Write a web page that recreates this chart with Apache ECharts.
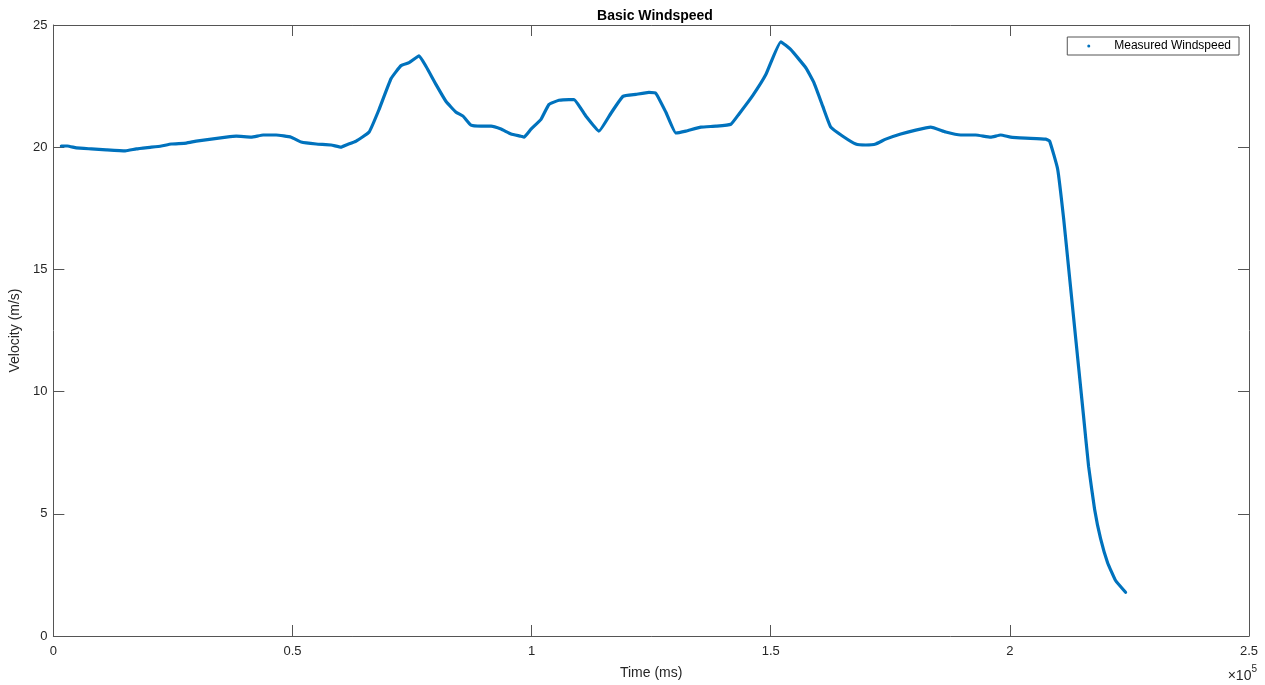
<!DOCTYPE html>
<html>
<head>
<meta charset="utf-8">
<script src="https://cdn.jsdelivr.net/npm/echarts@6/dist/echarts.min.js"></script>
<style>
  html, body { margin: 0; padding: 0; background: #fff; }
  #chart { width: 1265px; height: 685px; }
</style>
</head>
<body>
<div id="chart"></div>
<script>
// Time samples (ms) and measured windspeed (m/s)
const timeMs = [
  1672, 2925, 4806, 7940, 11074, 15044, 17342, 20476, 22566, 24655,
  27789, 29878, 33013, 36147, 38236, 41370, 43877, 46594, 49728, 51817,
  54951, 58085, 60175, 61219, 63309, 66025, 68114, 70621, 72711, 74383,
  76472, 77935, 80024, 82113, 84203, 85665, 87337, 89426, 91516, 93605,
  95695, 97784, 98411, 99873, 101963, 103634, 105724, 107813, 108858, 111365,
  114081, 116589, 119096, 121812, 124528, 125991, 128080, 130170, 132259, 135393,
  138527, 141661, 143333, 146258, 148974, 152108, 154198, 157332, 159003, 160884,
  162555, 165063, 167779, 169868, 171958, 174047, 177181, 180315, 183449, 186583,
  189718, 192852, 195986, 198075, 200165, 203299, 207477, 208313, 209985, 211238,
  212283, 213328, 214372, 215417, 216462, 217715, 218969, 220432, 222103, 224193
];
const windspeed = [
  20.05, 20.05, 19.97, 19.93, 19.89, 19.85, 19.93, 20.00, 20.05, 20.13,
  20.17, 20.25, 20.33, 20.41, 20.45, 20.41, 20.50, 20.50, 20.41, 20.21,
  20.13, 20.09, 20.00, 20.09, 20.25, 20.62, 21.55, 22.81, 23.34, 23.46,
  23.74, 23.30, 22.56, 21.87, 21.43, 21.27, 20.90, 20.86, 20.86, 20.74,
  20.54, 20.45, 20.41, 20.74, 21.14, 21.75, 21.92, 21.95, 21.95, 21.27,
  20.66, 21.39, 22.08, 22.16, 22.24, 22.20, 21.43, 20.58, 20.66, 20.82,
  20.86, 20.94, 21.35, 22.12, 22.97, 24.31, 23.99, 23.25, 22.65, 21.67,
  20.82, 20.45, 20.13, 20.09, 20.13, 20.33, 20.54, 20.70, 20.82, 20.62,
  20.50, 20.50, 20.41, 20.50, 20.41, 20.37, 20.33, 20.25, 19.11, 17.09,
  15.06, 13.03, 11.00, 8.97, 6.94, 5.19, 3.98, 3.00, 2.27, 1.79
];
const xTickLabels = ['0', '0.5', '1', '1.5', '2', '2.5'];
const seriesName = 'Measured Windspeed';

const points = timeMs.map((t, i) => [t, windspeed[i]]);
const ink = '#262626';
const frame = '#555555';
const font = 'Liberation Sans, Arial, sans-serif';

function frameAxis(extra) {
  return Object.assign({
    axisLine: { show: true, onZero: false, lineStyle: { color: frame, width: 1 } },
    axisTick: { show: true, inside: true, length: 11, lineStyle: { color: frame, width: 1 } },
    splitLine: { show: false }
  }, extra);
}

const chart = echarts.init(document.getElementById('chart'), null, { renderer: 'canvas' });
chart.setOption({
  backgroundColor: '#ffffff',
  animation: false,
  title: {
    text: 'Basic Windspeed',
    left: 650, top: 4, textAlign: 'center',
    textStyle: { fontFamily: font, fontSize: 14, fontWeight: 'bold', color: '#000' }
  },
  grid: { left: 52, right: 16, top: 25, bottom: 45, containLabel: false },
  legend: {
    data: [{ name: seriesName, icon: 'circle' }],
    right: 26, top: 37,
    orient: 'vertical',
    backgroundColor: '#fff',
    borderColor: frame, borderWidth: 1,
    padding: [3, 8, 3, 20],
    itemWidth: 3, itemHeight: 3,
    textStyle: { fontFamily: font, fontSize: 12, color: '#000', padding: [0, 0, 0, 19] }
  },
  xAxis: [
    frameAxis({
      type: 'value', position: 'bottom', min: 0, max: 250000, interval: 50000,
      name: 'Time (ms)', nameLocation: 'middle', nameGap: 30,
      nameTextStyle: { fontFamily: font, fontSize: 14, color: ink },
      axisLabel: {
        fontFamily: font, fontSize: 13, color: ink, margin: 9,
        formatter: (v) => xTickLabels[Math.round(v / 50000)]
      }
    }),
    frameAxis({
      type: 'value', position: 'top', min: 0, max: 250000, interval: 50000,
      axisLabel: { show: false }
    })
  ],
  yAxis: [
    frameAxis({
      type: 'value', position: 'left', min: 0, max: 25, interval: 5,
      name: 'Velocity (m/s)', nameLocation: 'middle', nameGap: 30, nameRotate: 90,
      nameTextStyle: { fontFamily: font, fontSize: 14, color: ink },
      axisLabel: { fontFamily: font, fontSize: 13, color: ink, margin: 6 }
    }),
    frameAxis({
      type: 'value', position: 'right', min: 0, max: 25, interval: 5,
      axisLabel: { show: false }
    })
  ],
  series: [{
    name: seriesName,
    type: 'line',
    data: points,
    xAxisIndex: 0, yAxisIndex: 0,
    showSymbol: false,
    symbol: 'circle',
    smooth: 0.12,
    itemStyle: { color: '#0072BD' },
    lineStyle: { color: '#0072BD', width: 3.2, cap: 'round', join: 'round' }
  }],
  graphic: [{
    type: 'text',
    right: 8, top: 664,
    style: {
      text: '{m|\u00d7}{b|10}{s|5}',
      rich: {
        m: { fontFamily: font, fontSize: 14, fill: ink, verticalAlign: 'bottom' },
        b: { fontFamily: font, fontSize: 14, fill: ink, verticalAlign: 'bottom' },
        s: { fontFamily: font, fontSize: 10, fill: ink, verticalAlign: 'top', padding: [0, 0, 9, 0] }
      }
    }
  }]
});
</script>
</body>
</html>
